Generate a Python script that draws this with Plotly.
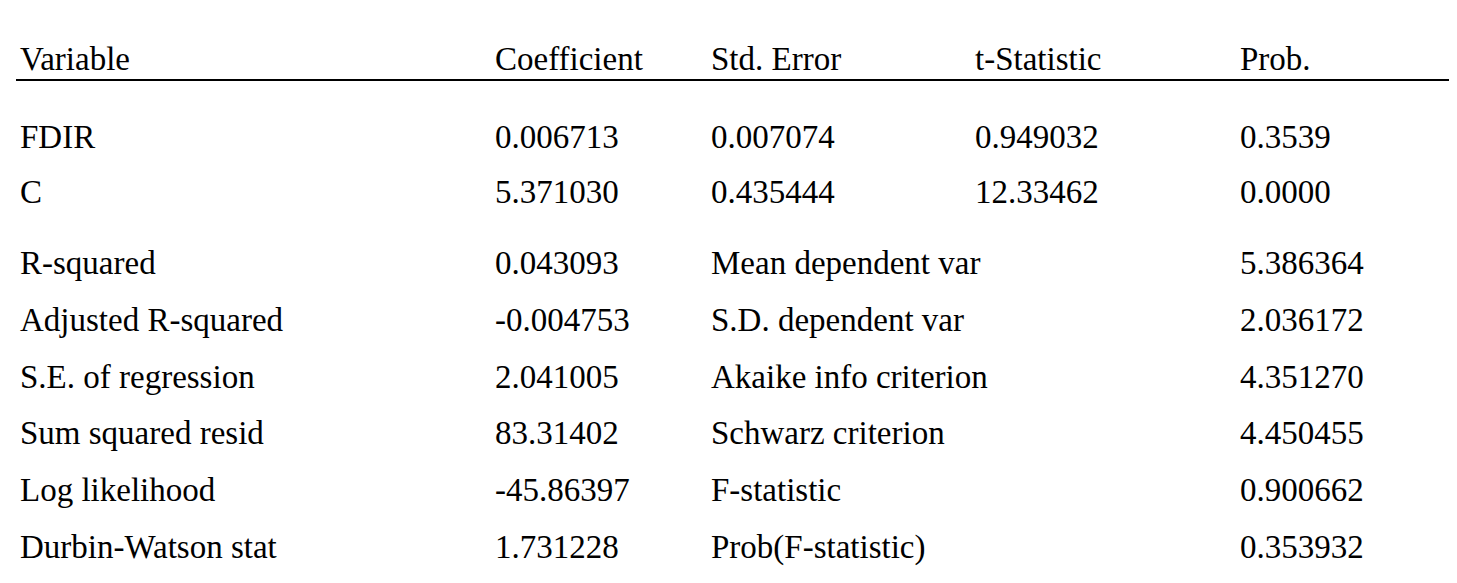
import plotly.graph_objects as go

headers = ["Variable", "Coefficient", "Std. Error", "t-Statistic", "Prob."]
variables = ["FDIR", "C"]
coefficients = ["0.006713", "5.371030"]
std_errors = ["0.007074", "0.435444"]
t_stats = ["0.949032", "12.33462"]
probs = ["0.3539", "0.0000"]

stat_left_labels = ["R-squared", "Adjusted R-squared", "S.E. of regression",
                    "Sum squared resid", "Log likelihood", "Durbin-Watson stat"]
stat_left_values = ["0.043093", "-0.004753", "2.041005", "83.31402", "-45.86397", "1.731228"]
stat_right_labels = ["Mean dependent var", "S.D. dependent var", "Akaike info criterion",
                     "Schwarz criterion", "F-statistic", "Prob(F-statistic)"]
stat_right_values = ["5.386364", "2.036172", "4.351270", "4.450455", "0.900662", "0.353932"]

col_x = [10, 485, 701, 965, 1230]
header_y = 51
coef_y = [129, 184]
stat_y = [255, 312, 369, 425, 482, 539]

fig = go.Figure()
ann = []
font = dict(family="Liberation Serif", size=33, color="#000000")

def add(x, y, t):
    ann.append(dict(x=x, y=y, xref="x", yref="y", text=t, showarrow=False,
                    xanchor="left", yanchor="middle", font=font))

for x, h in zip(col_x, headers):
    add(x, header_y, h)
for i, y in enumerate(coef_y):
    for x, t in zip(col_x, [variables[i], coefficients[i], std_errors[i], t_stats[i], probs[i]]):
        add(x, y, t)
for i, y in enumerate(stat_y):
    add(col_x[0], y, stat_left_labels[i])
    add(col_x[1], y, stat_left_values[i])
    add(col_x[2], y, stat_right_labels[i])
    add(col_x[4], y, stat_right_values[i])

fig.update_layout(
    width=1457, height=583, margin=dict(l=0, r=0, t=0, b=0),
    paper_bgcolor="white", plot_bgcolor="white",
    xaxis=dict(range=[0, 1457], visible=False, fixedrange=True),
    yaxis=dict(range=[583, 0], visible=False, fixedrange=True),
    annotations=ann,
    shapes=[
        dict(type="line", x0=8, x1=1457, y0=-6, y1=-6, xref="x", yref="y", line=dict(color="black", width=2)),
        dict(type="line", x0=8, x1=1457, y0=72, y1=72, xref="x", yref="y", line=dict(color="black", width=2)),
    ],
    showlegend=False,
)
fig.write_html("out.html")
